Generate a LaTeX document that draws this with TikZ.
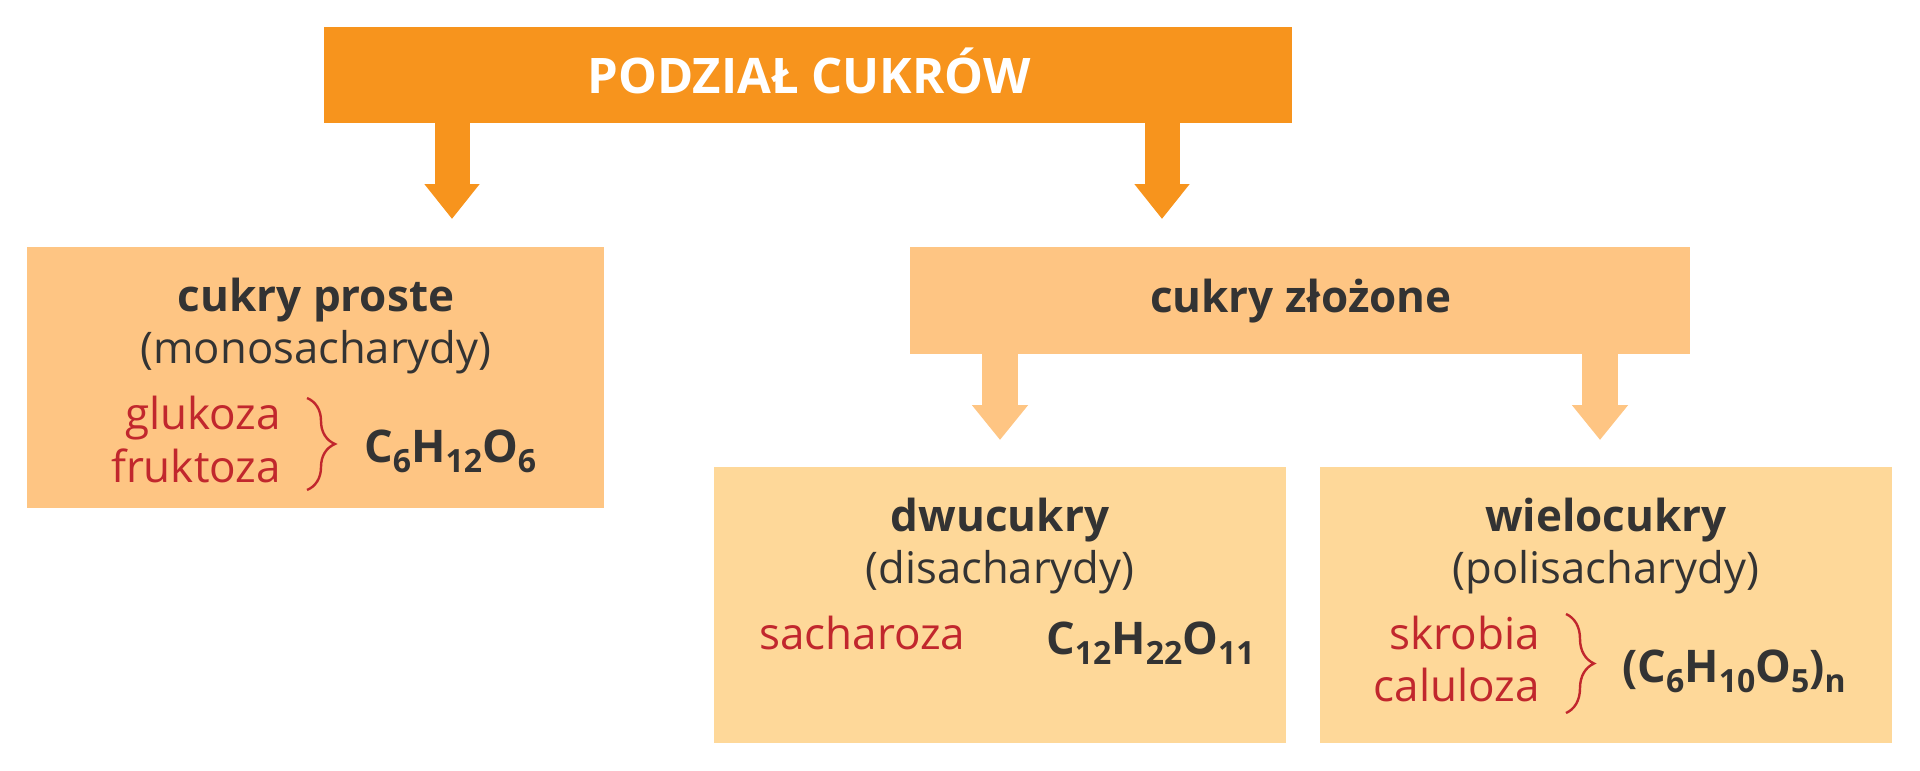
\documentclass[tikz,border=0pt]{standalone}
\usepackage{fontspec}
\setmainfont{Open Sans}
\usetikzlibrary{arrows.meta,decorations.pathreplacing}
\definecolor{topor}{HTML}{F7941D}
\definecolor{lvlone}{HTML}{FEC583}
\definecolor{lvltwo}{HTML}{FED899}
\definecolor{darktxt}{HTML}{333333}
\definecolor{redtxt}{HTML}{C1272D}
\newcommand{\chsub}[1]{{\fontsize{32pt}{32pt}\selectfont\raisebox{-10pt}{#1}}}
\begin{document}
\begin{tikzpicture}[x=1pt,y=-1pt,
  box/.style={rectangle, inner sep=0pt, outer sep=0pt, draw=none},
  heading/.style={font=\fontsize{44pt}{53pt}\selectfont\bfseries, text=darktxt, inner sep=0pt},
  latin/.style={font=\fontsize{43.6pt}{53pt}\selectfont, text=darktxt, inner sep=0pt},
  sugar/.style={font=\fontsize{44pt}{53pt}\selectfont, text=redtxt, inner sep=0pt},
  formula/.style={font=\fontsize{45pt}{54pt}\selectfont\bfseries, text=darktxt, inner sep=0pt},
  bigarrow/.style={line width=35pt, draw=topor, -{Triangle[width=53pt,length=35pt]}, shorten >=28pt},
  smallarrow/.style={line width=36pt, draw=lvlone, -{Triangle[width=54pt,length=35pt]}, shorten >=27pt},
  bracket/.style={draw=redtxt, line width=2.4pt, decorate, decoration={brace, amplitude=28pt}}
]
\useasboundingbox (0,0) rectangle (1920,771);
% boxes
\node[box, fill=topor, minimum width=968pt, minimum height=96pt] (top) at (808,75) {};
\node[box, fill=lvlone, minimum width=577pt, minimum height=261pt] (simple) at (315.5,377.5) {};
\node[box, fill=lvlone, minimum width=780pt, minimum height=107pt] (complex) at (1300,300.5) {};
\node[box, fill=lvltwo, minimum width=572pt, minimum height=276pt] (di) at (1000,605) {};
\node[box, fill=lvltwo, minimum width=572pt, minimum height=276pt] (poly) at (1606,605) {};
% arrow axes
\coordinate (ax1) at (452,0);
\coordinate (ax2) at (1162,0);
\coordinate (ax3) at (1000,0);
\coordinate (ax4) at (1600,0);
\draw[bigarrow] (top.south -| ax1) -- (simple.north -| ax1);
\draw[bigarrow] (top.south -| ax2) -- (complex.north -| ax2);
\draw[smallarrow] (complex.south -| ax3) -- (di.north -| ax3);
\draw[smallarrow] (complex.south -| ax4) -- (poly.north -| ax4);
% title
\node[font=\fontsize{49pt}{58pt}\selectfont\bfseries, text=white, inner sep=0pt, anchor=base] (title) at (809,93) {PODZIAŁ CUKRÓW};
% cukry proste
\node[heading, anchor=base] (sh) at (316,311) {cukry proste};
\node[latin, anchor=base] (sl) at (316,363) {(monosacharydy)};
\node[sugar, anchor=base east] (glu) at (281,429) {glukoza};
\node[sugar, anchor=base east] (fru) at (281,482) {fruktoza};
\coordinate (b1t) at (307,398);
\coordinate (b1b) at (307,490);
\draw[bracket] (b1t) -- (b1b);
\node[formula, anchor=base west] (f1) at (364,462) {C\chsub{6}H\chsub{12}O\chsub{6}};
% cukry zlozone
\node[heading, anchor=base] (ch) at (1301,312) {cukry złożone};
% dwucukry
\node[heading, anchor=base] (dh) at (1000,531) {dwucukry};
\node[latin, anchor=base] (dl) at (1000,583) {(disacharydy)};
\node[sugar, anchor=base west] (sach) at (759,649) {sacharoza};
\node[formula, anchor=base west] (f2) at (1046,654) {C\chsub{12}H\chsub{22}O\chsub{11}};
% wielocukry
\node[heading, anchor=base] (ph) at (1606,531) {wielocukry};
\node[latin, anchor=base] (pl) at (1606,583) {(polisacharydy)};
\node[sugar, anchor=base east] (skr) at (1540,649) {skrobia};
\node[sugar, anchor=base east] (cel) at (1540,701) {caluloza};
\coordinate (b2t) at (1566,614);
\coordinate (b2b) at (1566,713);
\draw[bracket] (b2t) -- (b2b);
\node[formula, anchor=base west] (f3) at (1622,682) {(C\chsub{6}H\chsub{10}O\chsub{5})\chsub{n}};
\end{tikzpicture}
\end{document}
